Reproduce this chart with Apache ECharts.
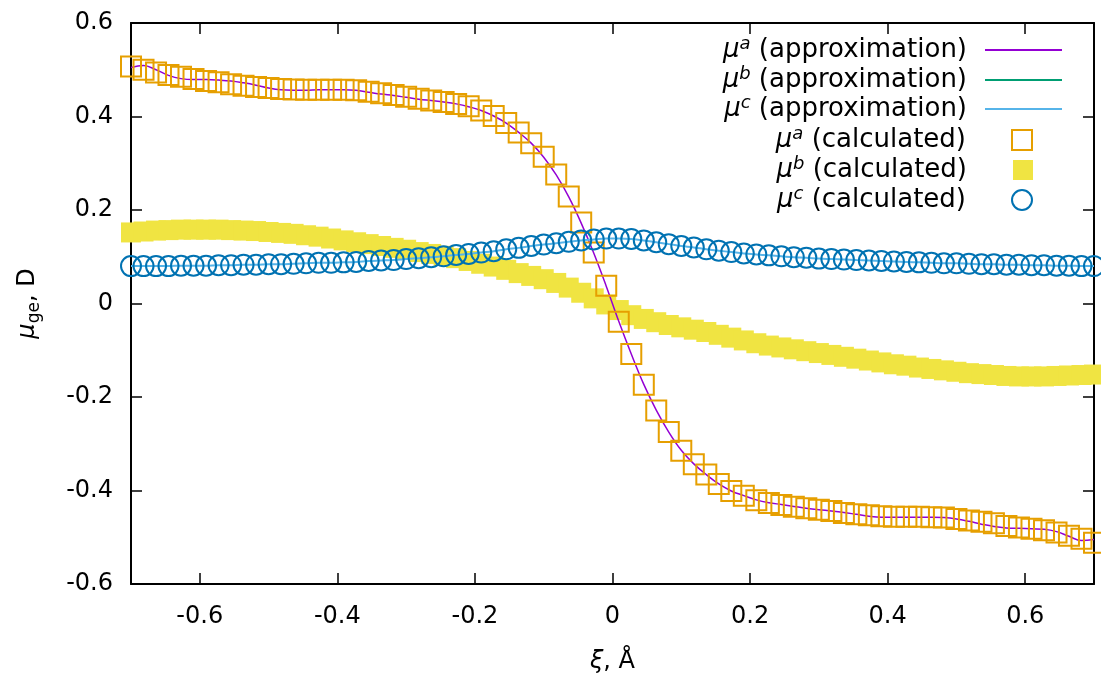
<!DOCTYPE html>
<html>
<head>
<meta charset="utf-8">
<script src="https://cdn.jsdelivr.net/npm/echarts@6.0.0/dist/echarts.min.js"></script>
<style>
html, body { margin: 0; padding: 0; background: #fff; }
#chart { width: 1101px; height: 679px; }
</style>
</head>
<body>
<div id="chart"></div>
<script>
// reaction coordinate, Å
const xi = [
  -0.7, -0.6818, -0.6636, -0.6455, -0.6273, -0.6091, -0.5909, -0.5727, -0.5545, -0.5364,
  -0.5182, -0.5, -0.4818, -0.4636, -0.4455, -0.4273, -0.4091, -0.3909, -0.3727, -0.3545,
  -0.3364, -0.3182, -0.3, -0.2818, -0.2636, -0.2455, -0.2273, -0.2091, -0.1909, -0.1727,
  -0.1545, -0.1364, -0.1182, -0.1, -0.0818, -0.0636, -0.0455, -0.0273, -0.0091,
  0.0091, 0.0273, 0.0455, 0.0636, 0.0818, 0.1, 0.1182, 0.1364, 0.1545, 0.1727, 0.1909,
  0.2091, 0.2273, 0.2455, 0.2636, 0.2818, 0.3, 0.3182, 0.3364, 0.3545, 0.3727,
  0.3909, 0.4091, 0.4273, 0.4455, 0.4636, 0.4818, 0.5, 0.5182, 0.5364, 0.5545,
  0.5727, 0.5909, 0.6091, 0.6273, 0.6455, 0.6636, 0.6818, 0.7
];
// mu^a calculated (open squares)
const muA = [
  0.507, 0.500, 0.494, 0.489, 0.485, 0.480, 0.476, 0.473, 0.469, 0.466,
  0.463, 0.461, 0.459, 0.458, 0.457, 0.457, 0.457, 0.457, 0.456, 0.453,
  0.450, 0.446, 0.442, 0.438, 0.434, 0.431, 0.427, 0.422, 0.413, 0.401,
  0.386, 0.366, 0.343, 0.314, 0.276, 0.229, 0.173, 0.109, 0.038,
  -0.039, -0.108, -0.174, -0.229, -0.275, -0.315, -0.344, -0.366, -0.386, -0.401, -0.411,
  -0.421, -0.427, -0.431, -0.435, -0.438, -0.441, -0.444, -0.448, -0.451, -0.453,
  -0.455, -0.456, -0.456, -0.456, -0.457, -0.458, -0.461, -0.464, -0.467, -0.470,
  -0.476, -0.479, -0.482, -0.485, -0.490, -0.497, -0.503, -0.512
];
// mu^a approximation (purple line)
const muAFit = [
  0.505, 0.509, 0.500, 0.488, 0.481, 0.479, 0.479, 0.478, 0.476, 0.472,
  0.467, 0.461, 0.457, 0.456, 0.456, 0.457, 0.457, 0.457, 0.456, 0.452,
  0.448, 0.445, 0.441, 0.437, 0.434, 0.431, 0.427, 0.421, 0.413, 0.401,
  0.386, 0.366, 0.343, 0.313, 0.275, 0.228, 0.172, 0.108, 0.037,
  -0.038, -0.108, -0.173, -0.228, -0.275, -0.314, -0.343, -0.366, -0.386, -0.401, -0.411,
  -0.420, -0.426, -0.430, -0.434, -0.438, -0.441, -0.444, -0.447, -0.451, -0.455,
  -0.457, -0.457, -0.457, -0.457, -0.457, -0.458, -0.461, -0.466, -0.472, -0.477,
  -0.480, -0.481, -0.482, -0.483, -0.488, -0.498, -0.507, -0.505
];
// mu^b (filled squares + green line)
const muB = [
  0.152, 0.154, 0.156, 0.157, 0.158, 0.158, 0.158, 0.158, 0.157, 0.156,
  0.155, 0.153, 0.151, 0.149, 0.146, 0.143, 0.139, 0.135, 0.131, 0.127,
  0.123, 0.119, 0.115, 0.110, 0.106, 0.102, 0.097, 0.091, 0.085, 0.079,
  0.072, 0.065, 0.059, 0.052, 0.044, 0.034, 0.023, 0.011, -0.002,
  -0.014, -0.025, -0.033, -0.040, -0.046, -0.051, -0.056, -0.061, -0.067, -0.073, -0.079,
  -0.085, -0.090, -0.094, -0.098, -0.102, -0.106, -0.110, -0.114, -0.118, -0.122,
  -0.126, -0.130, -0.133, -0.137, -0.140, -0.143, -0.146, -0.149, -0.151, -0.153,
  -0.155, -0.156, -0.156, -0.156, -0.155, -0.154, -0.153, -0.152
];
// mu^c (open circles + light blue line)
const muC = [
  0.080, 0.080, 0.080, 0.080, 0.081, 0.081, 0.081, 0.082, 0.082, 0.083,
  0.083, 0.084, 0.084, 0.085, 0.086, 0.087, 0.087, 0.088, 0.089, 0.091,
  0.092, 0.093, 0.095, 0.097, 0.099, 0.101, 0.104, 0.106, 0.109, 0.112,
  0.116, 0.119, 0.123, 0.126, 0.129, 0.132, 0.135, 0.137, 0.139,
  0.139, 0.138, 0.135, 0.131, 0.127, 0.123, 0.120, 0.116, 0.113, 0.110, 0.107,
  0.105, 0.103, 0.101, 0.099, 0.098, 0.096, 0.095, 0.094, 0.093, 0.092,
  0.091, 0.090, 0.089, 0.088, 0.087, 0.086, 0.086, 0.085, 0.084, 0.084,
  0.083, 0.083, 0.082, 0.082, 0.081, 0.081, 0.080, 0.080
];
const xTicks = [-0.6, -0.4, -0.2, 0, 0.2, 0.4, 0.6];
const yTicks = [-0.6, -0.4, -0.2, 0, 0.2, 0.4, 0.6];

const font = 'DejaVu Sans';
const pairs = arr => xi.map((x, i) => [x, arr[i]]);

const legendText = {
  'a-fit': '{mu|μ}{sup|a} (approximation)',
  'b-fit': '{mu|μ}{sup|b} (approximation)',
  'c-fit': '{mu|μ}{sup|c} (approximation)',
  'a-calc': '{mu|μ}{sup|a} (calculated)',
  'b-calc': '{mu|μ}{sup|b} (calculated)',
  'c-calc': '{mu|μ}{sup|c} (calculated)'
};
const rich = {
  mu: { fontFamily: font, fontSize: 26, fontStyle: 'italic', color: '#000', lineHeight: 30 },
  sup: { fontFamily: font, fontSize: 18, fontStyle: 'italic', color: '#000', verticalAlign: 'top', lineHeight: 16 }
};

// one legend per entry so that the text is right aligned like gnuplot's key
function keyEntry(name, top, right, w, h, pad, icon) {
  const k = {
    data: [name],
    top: top,
    right: right,
    align: 'right',
    orient: 'vertical',
    padding: 0,
    itemWidth: w,
    itemHeight: h,
    selectedMode: false,
    formatter: n => legendText[n],
    textStyle: { fontFamily: font, fontSize: 26, color: '#000', lineHeight: 30, padding: [0, pad, 0, 0], rich: rich }
  };
  if (icon) k.icon = icon;
  return k;
}

const frameLine = { show: true, onZero: false, lineStyle: { color: '#000', width: 2 } };

const chart = echarts.init(document.getElementById('chart'));
const option = {
  animation: false,
  backgroundColor: '#fff',
  grid: { left: 131, right: 7, top: 23, bottom: 93, containLabel: false },
  legend: [
    keyEntry('a-fit', 35, 39, 77, 2, 13, 'rect'),
    keyEntry('b-fit', 65, 39, 77, 2, 13, 'rect'),
    keyEntry('c-fit', 94, 39, 77, 2, 13, 'rect'),
    keyEntry('a-calc', 125, 68, 20, 20, 41),
    keyEntry('b-calc', 155, 68, 20, 20, 41),
    keyEntry('c-calc', 185, 68, 20, 20, 41)
  ],
  xAxis: [
    {
      type: 'value', min: -0.7, max: 0.7, position: 'bottom',
      name: '{xi|ξ}, Å', nameLocation: 'middle', nameGap: 66,
      nameTextStyle: { fontFamily: font, fontSize: 24, color: '#000',
        rich: { xi: { fontFamily: font, fontSize: 24, fontStyle: 'italic', color: '#000' } } },
      axisLine: frameLine,
      axisTick: { inside: true, length: 11, customValues: xTicks, lineStyle: { color: '#000', width: 1.5 } },
      axisLabel: { customValues: xTicks, margin: 21, fontFamily: font, fontSize: 24, color: '#000' },
      splitLine: { show: false }
    },
    {
      type: 'value', min: -0.7, max: 0.7, position: 'top',
      axisLine: frameLine,
      axisTick: { inside: true, length: 11, customValues: xTicks, lineStyle: { color: '#000', width: 1.5 } },
      axisLabel: { show: false },
      splitLine: { show: false }
    }
  ],
  yAxis: [
    {
      type: 'value', min: -0.6, max: 0.6, position: 'left',
      name: '{mu|μ}{sub|ge}, D', nameLocation: 'middle', nameRotate: 90, nameGap: 88,
      nameTextStyle: { fontFamily: font, fontSize: 24, color: '#000',
        rich: {
          mu: { fontFamily: font, fontSize: 24, fontStyle: 'italic', color: '#000', lineHeight: 30 },
          sub: { fontFamily: font, fontSize: 17, color: '#000', verticalAlign: 'bottom', lineHeight: 16 }
        } },
      axisLine: frameLine,
      axisTick: { inside: true, length: 11, customValues: yTicks, lineStyle: { color: '#000', width: 1.5 } },
      axisLabel: { customValues: yTicks, margin: 18, fontFamily: font, fontSize: 24, color: '#000' },
      splitLine: { show: false }
    },
    {
      type: 'value', min: -0.6, max: 0.6, position: 'right',
      axisLine: frameLine,
      axisTick: { inside: true, length: 11, customValues: yTicks, lineStyle: { color: '#000', width: 1.5 } },
      axisLabel: { show: false },
      splitLine: { show: false }
    }
  ],
  series: [
    {
      name: 'b-fit', type: 'line', z: 1, data: pairs(muB), symbol: 'none', smooth: 0.4,
      lineStyle: { color: '#009e73', width: 2 }, itemStyle: { color: '#009e73' }
    },
    {
      name: 'b-calc', type: 'scatter', z: 2, data: pairs(muB), symbol: 'rect', symbolSize: 20,
      itemStyle: { color: '#f0e442', opacity: 1 }
    },
    {
      name: 'a-fit', type: 'line', z: 3, data: pairs(muAFit), symbol: 'none', smooth: 0.4,
      lineStyle: { color: '#9400d3', width: 1.5 }, itemStyle: { color: '#9400d3' }
    },
    {
      name: 'c-fit', type: 'line', z: 3, data: pairs(muC), symbol: 'none', smooth: 0.4,
      lineStyle: { color: '#56b4e9', width: 2 }, itemStyle: { color: '#56b4e9' }
    },
    {
      name: 'a-calc', type: 'scatter', z: 4, data: pairs(muA), symbol: 'rect', symbolSize: 20,
      itemStyle: { color: 'rgba(0,0,0,0)', borderColor: '#e69f00', borderWidth: 2, opacity: 1 }
    },
    {
      name: 'c-calc', type: 'scatter', z: 4, data: pairs(muC), symbol: 'circle', symbolSize: 20,
      itemStyle: { color: 'rgba(0,0,0,0)', borderColor: '#0072b2', borderWidth: 2, opacity: 1 }
    }
  ]
};
chart.setOption(option);
</script>
</body>
</html>
